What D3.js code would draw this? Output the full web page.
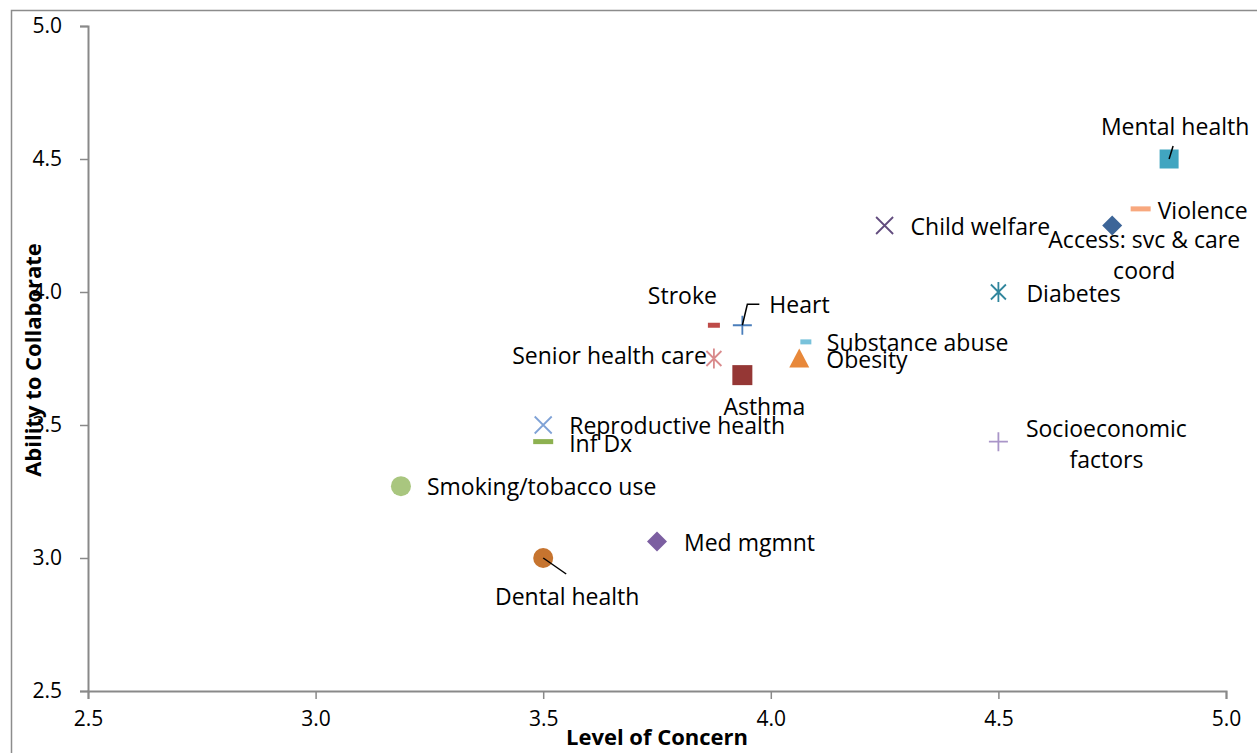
<!DOCTYPE html>
<html><head><meta charset="utf-8">
<script src="https://cdn.jsdelivr.net/npm/d3@7"></script>
<style>body{margin:0;background:#fff;} svg{display:block;}</style>
</head><body>
<svg id="c" width="1257" height="753"></svg>
<script>
// ---- data ----
const categories = ["Mental health","Violence","Access: svc & care coord","Child welfare","Diabetes","Stroke","Heart","Substance abuse","Obesity","Senior health care","Asthma","Reproductive health","Inf Dx","Smoking/tobacco use","Med mgmnt","Dental health","Socioeconomic factors"];
const levelOfConcern = [4.875,4.8125,4.75,4.25,4.5,3.875,3.9375,4.077,4.0625,3.875,3.9375,3.5,3.5,3.1875,3.75,3.5,4.5];
const abilityToCollaborate = [4.5,4.3125,4.25,4.25,4.0,3.875,3.875,3.8125,3.75,3.75,3.6875,3.5,3.4375,3.27,3.0625,3.0,3.4375];
const xTicks = [2.5,3.0,3.5,4.0,4.5,5.0];
const yTicks = [2.5,3.0,3.5,4.0,4.5,5.0];

// ---- styles ----
const markers = ["square","dash","diamond","x","asterisk","dash","plus","dash","triangle","asterisk","square","x","dash","circle","diamond","circle","plus"];
const colors = ["#41A5C0","#F8A87E","#3D6598","#624C7E","#31869D","#BE4B48","#4A7EBB","#78C2DB","#E8883A","#D98A8C","#953735","#7FA2D6","#8DB150","#A9C67F","#7C5FA1","#C6742F","#A995C8"];
const msize = [19,20,20,17,20,12,19,11,20,20,20,17,20,20,20,20,19];
const labelLines = [["Mental health"],["Violence"],["Access: svc & care","coord"],["Child welfare"],["Diabetes"],["Stroke"],["Heart"],["Substance abuse"],["Obesity"],["Senior health care"],["Asthma"],["Reproductive health"],["Inf Dx"],["Smoking/tobacco use"],["Med mgmnt"],["Dental health"],["Socioeconomic","factors"]];
const labelAnchor = ["middle","start","middle","start","start","end","start","start","start","end","middle","start","start","start","start","middle","middle"];
const labelDx = [6,17,32,26,28,3,27,21,27,-7,22,26,26,26,27,24,108];
const labelDy = [-32,2,14,1,2,-29,-20,1,1,-3,32,1,2,1,2,39,-13];

const svg = d3.select("#c");
const x = d3.scaleLinear().domain([2.5,5.0]).range([88,1226]);
const y = d3.scaleLinear().domain([2.5,5.0]).range([691,26]);
const axisColor = "#898989";
const font = "'Open Sans', sans-serif";

// outer frame
svg.append("path").attr("d","M11.5,760V10.5H1270").attr("fill","none").attr("stroke","#8c8c8c").attr("stroke-width",1.5);

// axes
const gx = svg.append("g").attr("transform",`translate(0,${y(2.5)})`)
  .call(d3.axisBottom(x).tickValues(xTicks).tickFormat(d3.format(".1f")).tickSizeOuter(0).tickSize(8).tickPadding(12));
const gy = svg.append("g").attr("transform",`translate(${x(2.5)},0)`)
  .call(d3.axisLeft(y).tickValues(yTicks).tickFormat(d3.format(".1f")).tickSizeOuter(0).tickSize(8).tickPadding(18));
[gx,gy].forEach(g=>{
  g.select(".domain").attr("stroke",axisColor).attr("stroke-width",2);
  g.selectAll(".tick line").attr("stroke",axisColor).attr("stroke-width",1.5);
  g.selectAll(".tick text").attr("fill","#000").style("font-family",font).style("font-size","21px");
});

// axis titles
svg.append("text").attr("x",657).attr("y",745).attr("text-anchor","middle")
  .style("font-family",font).style("font-size","22px").style("font-weight","bold").text("Level of Concern");
svg.append("text").attr("transform","translate(41,360) rotate(-90)").attr("text-anchor","middle")
  .style("font-family",font).style("font-size","22px").style("font-weight","bold").text("Ability to Collaborate");

// leader lines (drawn relative to points)
const leaders = {0:[[0,0],[4,-13]],6:[[0,0],[5,-21],[17,-21]],15:[[0,0],[23,16]]};
const pts = categories.map((c,i)=>({i,px:x(levelOfConcern[i]),py:y(abilityToCollaborate[i])}));

// markers
const g = svg.append("g");
pts.forEach(p=>{
  const i=p.i, s=msize[i], h=s/2, c=colors[i], m=markers[i];
  const t = g.append("g").attr("transform",`translate(${p.px},${p.py})`);
  if(m==="square") t.append("rect").attr("x",-h).attr("y",-h).attr("width",s).attr("height",s).attr("fill",c);
  else if(m==="diamond") t.append("path").attr("d",`M0,${-h}L${h},0L0,${h}L${-h},0Z`).attr("fill",c);
  else if(m==="circle") t.append("circle").attr("r",h).attr("fill",c);
  else if(m==="triangle") t.append("path").attr("d",`M0,${-h}L${h},${h-1}L${-h},${h-1}Z`).attr("fill",c);
  else if(m==="dash") t.append("rect").attr("x",-h).attr("y",-2.5).attr("width",s).attr("height",5).attr("fill",c);
  else if(m==="plus") t.append("path").attr("d",`M${-h},0H${h}M0,${-h}V${h}`).attr("stroke",c).attr("stroke-width",1.8).attr("fill","none");
  else if(m==="x") t.append("path").attr("d",`M${-h},${-h}L${h},${h}M${-h},${h}L${h},${-h}`).attr("stroke",c).attr("stroke-width",1.8).attr("fill","none");
  else if(m==="asterisk") t.append("path").attr("d",`M${-h*0.75},${-h*0.75}L${h*0.75},${h*0.75}M${-h*0.75},${h*0.75}L${h*0.75},${-h*0.75}M0,${-h}V${h}`).attr("stroke",c).attr("stroke-width",1.8).attr("fill","none");
});

// leaders
Object.keys(leaders).forEach(k=>{
  const p=pts[+k];
  svg.append("path").attr("d",d3.line()(leaders[k].map(q=>[p.px+q[0],p.py+q[1]])))
    .attr("fill","none").attr("stroke","#000").attr("stroke-width",1.5);
});

// labels
pts.forEach(p=>{
  const i=p.i, lines=labelLines[i];
  const t = svg.append("text").attr("text-anchor",labelAnchor[i])
    .style("font-family",font).style("font-size","23px").attr("fill","#000");
  lines.forEach((ln,j)=>{
    t.append("tspan").attr("x",p.px+labelDx[i]).attr("y",p.py+labelDy[i]+j*31).attr("dy","0.35em").text(ln);
  });
});
</script>
</body></html>
